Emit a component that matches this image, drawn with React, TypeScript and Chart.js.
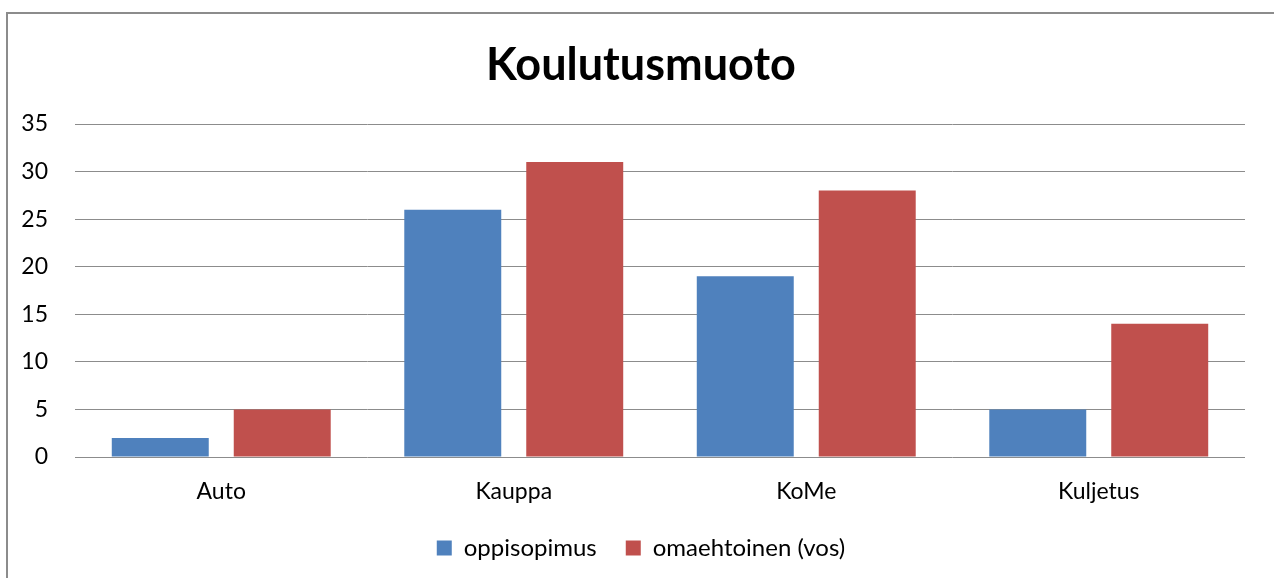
import React, { useEffect, useRef } from "react";
import { Chart, registerables } from "chart.js";

Chart.register(...registerables);

const categories = ["Auto", "Kauppa", "KoMe", "Kuljetus"];
const oppisopimus = [2, 26, 19, 5];
const omaehtoinen = [5, 31, 28, 14];
const seriesNames = ["oppisopimus", "omaehtoinen (vos)"];
const chartTitle = "Koulutusmuoto";

const FONT = "Lato, 'Liberation Sans', sans-serif";

const borderPlugin = {
  id: "outerBorder",
  beforeDraw(chart: any) {
    const ctx = chart.ctx;
    ctx.save();
    ctx.fillStyle = "#ffffff";
    ctx.fillRect(0, 0, chart.width, chart.height);
    ctx.strokeStyle = "#8c8c8c";
    ctx.lineWidth = 2;
    ctx.strokeRect(7, 13, chart.width + 20, chart.height + 20);
    ctx.restore();
  },
};

export default function App() {
  const ref = useRef<HTMLCanvasElement>(null);
  useEffect(() => {
    if (!ref.current) return;
    const chart = new Chart(ref.current, {
      type: "bar",
      data: {
        labels: categories,
        datasets: [
          { label: seriesNames[0], data: oppisopimus, backgroundColor: "#4F81BD" },
          { label: seriesNames[1], data: omaehtoinen, backgroundColor: "#C0504D" },
        ],
      },
      options: {
        animation: false,
        responsive: false,
        devicePixelRatio: 1,
        layout: { padding: { left: 8, right: 0, top: 0, bottom: 8 } },
        datasets: {
          bar: { categoryPercentage: 0.834, barPercentage: 0.795 },
        },
        plugins: {
          title: {
            display: true,
            text: chartTitle,
            color: "#000",
            font: { family: FONT, size: 45, weight: "bold" },
            padding: { top: 38, bottom: 32 },
          },
          legend: {
            position: "bottom",
            labels: {
              color: "#000",
              font: { family: FONT, size: 24 },
              boxWidth: 15,
              boxHeight: 15,
              padding: 29,
            },
          },
          tooltip: { enabled: false },
        },
        scales: {
          x: {
            grid: { display: false, drawTicks: false },
            border: { display: false },
            ticks: { color: "#000", font: { family: FONT, size: 23 }, padding: 21 },
            afterFit: (s: any) => { s.height = 50; },
          },
          y: {
            min: 0,
            max: 35,
            ticks: { stepSize: 5, color: "#000", font: { family: FONT, size: 23 }, padding: 27 },
            grid: { color: "#8c8c8c", lineWidth: 1, drawTicks: false },
            border: { display: false },
            afterFit: (s: any) => { s.width = 67; },
          },
          yRight: {
            type: "linear",
            position: "right",
            grid: { display: false, drawTicks: false },
            border: { display: false },
            ticks: { display: false },
            afterFit: (s: any) => { s.width = 29; },
          },
        },
      },
      plugins: [borderPlugin],
    });
    return () => chart.destroy();
  }, []);
  return (
    <div style={{ position: "fixed", left: 0, top: 0, width: 1274, height: 578 }}>
      <canvas ref={ref} width={1274} height={578} style={{ display: "block" }} />
    </div>
  );
}
